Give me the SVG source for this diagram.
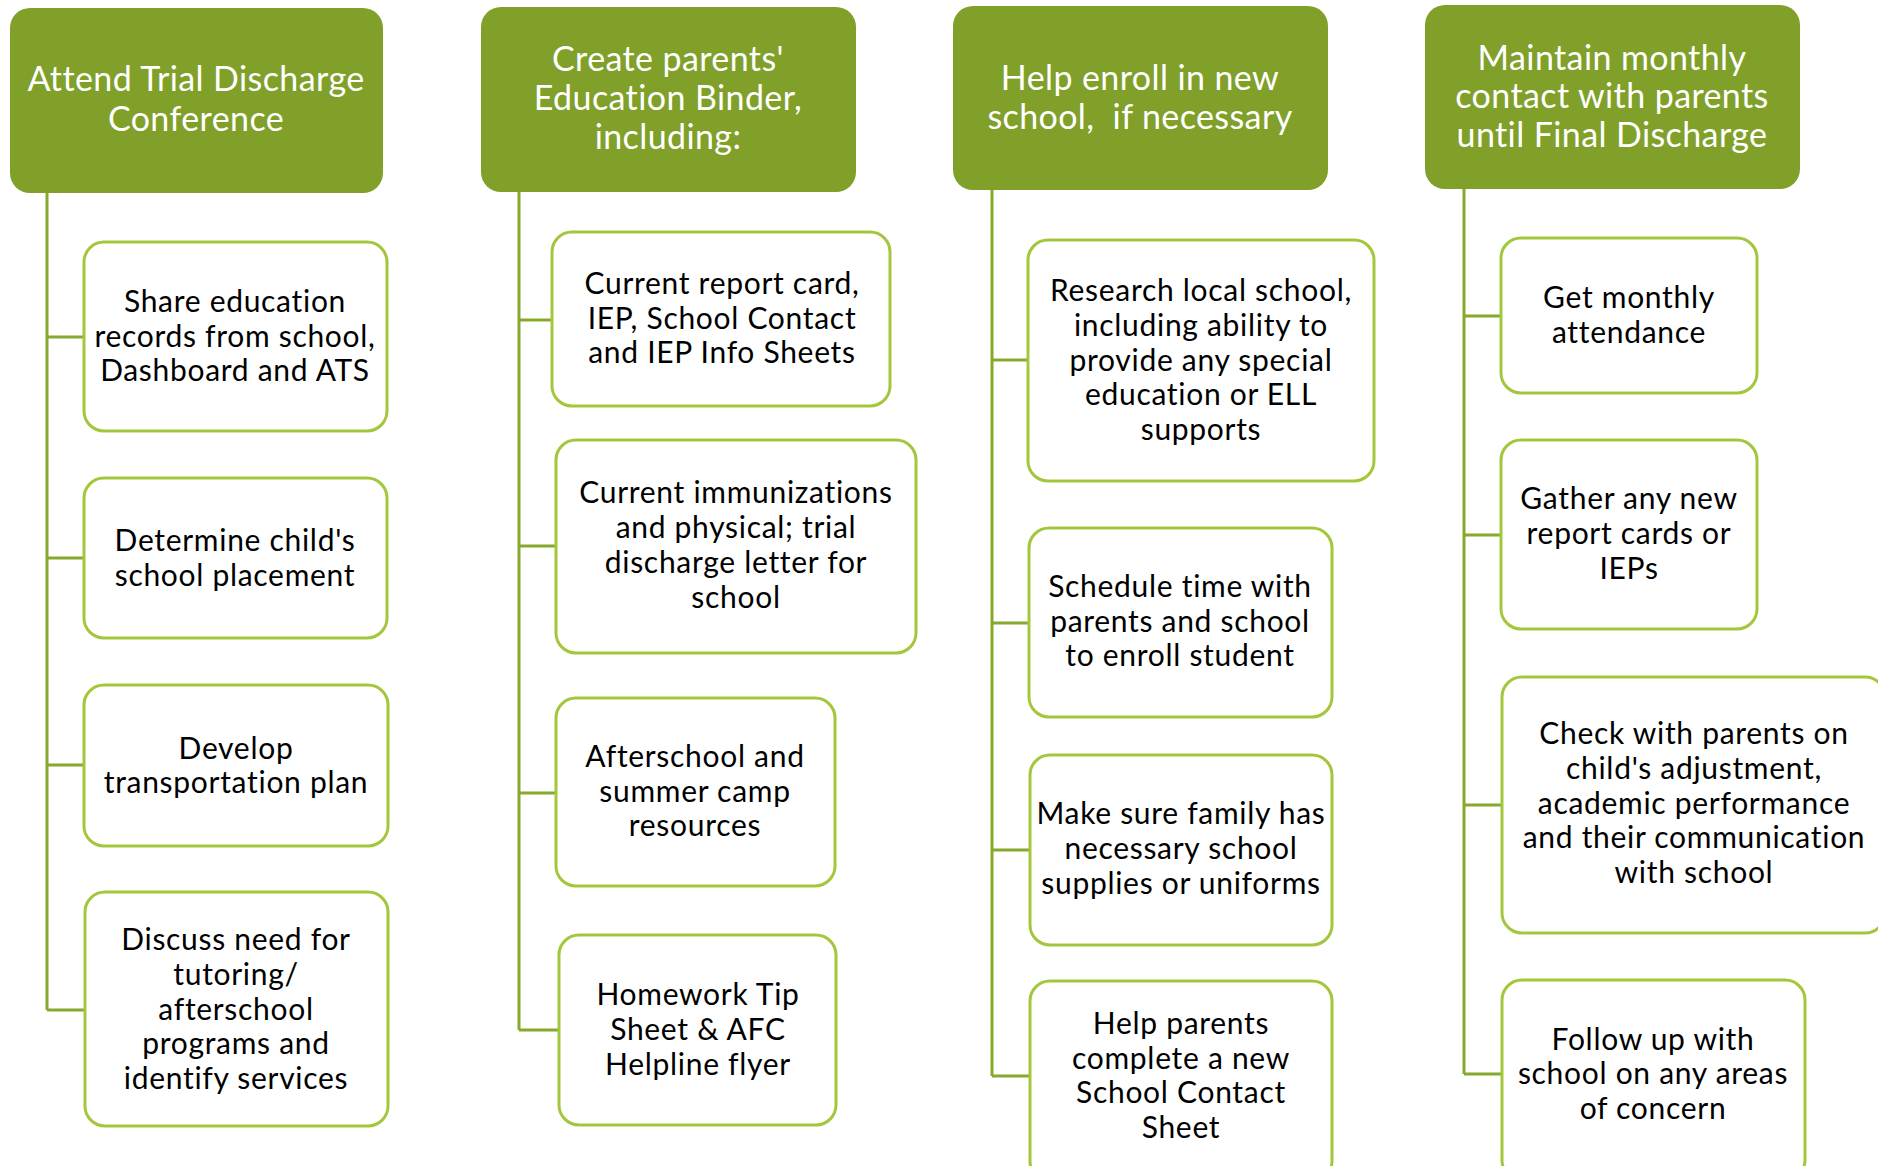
<svg xmlns="http://www.w3.org/2000/svg" width="1878" height="1166" viewBox="0 0 1878 1166">
<style>
.hdr{fill:#80A02A;}
.box{fill:#FFFFFF;stroke:#A3C73C;stroke-width:3;}
.ht{font-family:Lato,"Open Sans","Liberation Sans",sans-serif;font-size:34px;letter-spacing:0.4px;fill:#FFFFFF;text-anchor:middle;}
.bt{font-family:Lato,"Open Sans","Liberation Sans",sans-serif;font-size:30px;letter-spacing:0.7px;fill:#000000;text-anchor:middle;}
.con{fill:none;stroke:#86A82F;stroke-width:3;}
</style>
<rect width="1878" height="1166" fill="#FFFFFF"/>
<g id="connectors">
<path class="con" d="M47,193 V1010 M47,337 H84 M47,558 H84 M47,765 H84 M47,1010 H85"/>
<path class="con" d="M519,192 V1030 M519,320 H552 M519,546 H556 M519,793 H556 M519,1030 H559"/>
<path class="con" d="M992,190 V1076 M992,360 H1028 M992,623 H1029 M992,850 H1030 M992,1076 H1030"/>
<path class="con" d="M1464,189 V1074 M1464,316 H1501 M1464,535 H1501 M1464,805 H1502 M1464,1074 H1502"/>
</g>
<g id="h1"><rect class="hdr" x="10" y="8" width="373" height="185" rx="20"/>
<text class="ht" x="196" y="91">Attend Trial Discharge</text><text class="ht" x="196" y="131">Conference</text></g>
<g id="h2"><rect class="hdr" x="481" y="7" width="375" height="185" rx="20"/>
<text class="ht" x="668" y="71">Create parents'</text><text class="ht" x="668" y="110">Education Binder,</text><text class="ht" x="668" y="149">including:</text></g>
<g id="h3"><rect class="hdr" x="953" y="6" width="375" height="184" rx="20"/>
<text class="ht" x="1140" y="90">Help enroll in new</text><text class="ht" x="1140" y="129">school,&#160; if necessary</text></g>
<g id="h4"><rect class="hdr" x="1425" y="5" width="375" height="184" rx="20"/>
<text class="ht" x="1612" y="70">Maintain monthly</text><text class="ht" x="1612" y="108">contact with parents</text><text class="ht" x="1612" y="147">until Final Discharge</text></g>

<g id="b1"><rect class="box" x="84" y="242" width="303" height="189" rx="20"/>
<text class="bt" x="235" y="312">Share education</text><text class="bt" x="235" y="347">records from school,</text><text class="bt" x="235" y="381">Dashboard and ATS</text></g>
<g id="b2"><rect class="box" x="84" y="478" width="303" height="160" rx="20"/>
<text class="bt" x="235" y="551">Determine child's</text><text class="bt" x="235" y="586">school placement</text></g>
<g id="b3"><rect class="box" x="84" y="685" width="304" height="161" rx="20"/>
<text class="bt" x="236" y="759">Develop</text><text class="bt" x="236" y="793">transportation plan</text></g>
<g id="b4"><rect class="box" x="85" y="892" width="303" height="234" rx="20"/>
<text class="bt" x="236" y="950">Discuss need for</text><text class="bt" x="236" y="985">tutoring/</text><text class="bt" x="236" y="1020">afterschool</text><text class="bt" x="236" y="1054">programs and</text><text class="bt" x="236" y="1089">identify services</text></g>

<g id="c1"><rect class="box" x="552" y="232" width="338" height="174" rx="20"/>
<text class="bt" x="722" y="294">Current report card,</text><text class="bt" x="722" y="329">IEP, School Contact</text><text class="bt" x="722" y="363">and IEP Info Sheets</text></g>
<g id="c2"><rect class="box" x="556" y="440" width="360" height="213" rx="20"/>
<text class="bt" x="736" y="503">Current immunizations</text><text class="bt" x="736" y="538">and physical; trial</text><text class="bt" x="736" y="573">discharge letter for</text><text class="bt" x="736" y="608">school</text></g>
<g id="c3"><rect class="box" x="556" y="698" width="279" height="188" rx="20"/>
<text class="bt" x="695" y="767">Afterschool and</text><text class="bt" x="695" y="802">summer camp</text><text class="bt" x="695" y="836">resources</text></g>
<g id="c4"><rect class="box" x="559" y="935" width="277" height="190" rx="20"/>
<text class="bt" x="698" y="1005">Homework Tip</text><text class="bt" x="698" y="1040">Sheet &amp; AFC</text><text class="bt" x="698" y="1075">Helpline flyer</text></g>

<g id="d1"><rect class="box" x="1028" y="240" width="346" height="241" rx="20"/>
<text class="bt" x="1201" y="301">Research local school,</text><text class="bt" x="1201" y="336">including ability to</text><text class="bt" x="1201" y="371">provide any special</text><text class="bt" x="1201" y="405">education or ELL</text><text class="bt" x="1201" y="440">supports</text></g>
<g id="d2"><rect class="box" x="1029" y="528" width="303" height="189" rx="20"/>
<text class="bt" x="1180" y="597">Schedule time with</text><text class="bt" x="1180" y="632">parents and school</text><text class="bt" x="1180" y="666">to enroll student</text></g>
<g id="d3"><rect class="box" x="1030" y="755" width="302" height="190" rx="20"/>
<text class="bt" x="1181" y="824">Make sure family has</text><text class="bt" x="1181" y="859">necessary school</text><text class="bt" x="1181" y="894">supplies or uniforms</text></g>
<g id="d4"><rect class="box" x="1030" y="981" width="302" height="200" rx="20"/>
<text class="bt" x="1181" y="1034">Help parents</text><text class="bt" x="1181" y="1069">complete a new</text><text class="bt" x="1181" y="1103">School Contact</text><text class="bt" x="1181" y="1138">Sheet</text></g>

<g id="e1"><rect class="box" x="1501" y="238" width="256" height="155" rx="20"/>
<text class="bt" x="1629" y="308">Get monthly</text><text class="bt" x="1629" y="343">attendance</text></g>
<g id="e2"><rect class="box" x="1501" y="440" width="256" height="189" rx="20"/>
<text class="bt" x="1629" y="509">Gather any new</text><text class="bt" x="1629" y="544">report cards or</text><text class="bt" x="1629" y="579">IEPs</text></g>
<g id="e3"><rect class="box" x="1502" y="677" width="383" height="256" rx="20"/>
<text class="bt" x="1694" y="744">Check with parents on</text><text class="bt" x="1694" y="779">child's adjustment,</text><text class="bt" x="1694" y="814">academic performance</text><text class="bt" x="1694" y="848">and their communication</text><text class="bt" x="1694" y="883">with school</text></g>
<g id="e4"><rect class="box" x="1502" y="980" width="303" height="200" rx="20"/>
<text class="bt" x="1653" y="1050">Follow up with</text><text class="bt" x="1653" y="1084">school on any areas</text><text class="bt" x="1653" y="1119">of concern</text></g>
</svg>
